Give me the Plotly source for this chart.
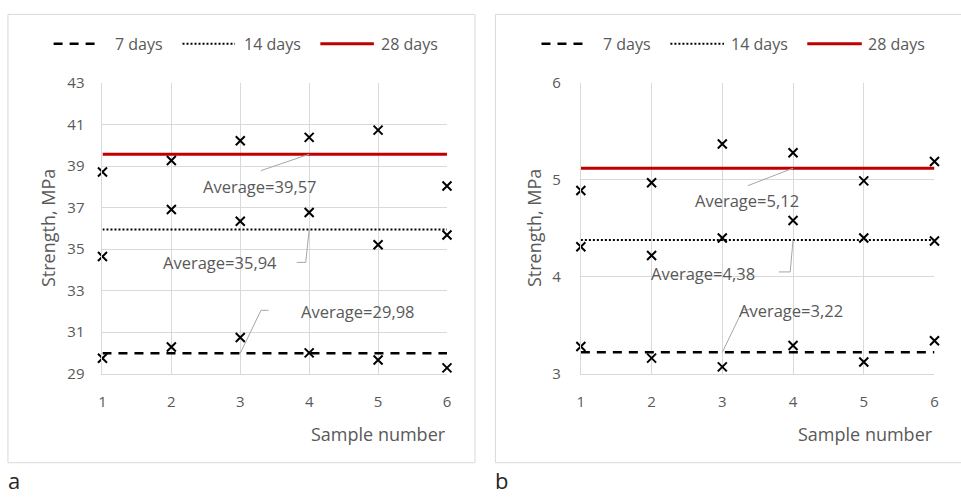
import plotly.graph_objects as go

# ---------------- data ----------------
samples = [1, 2, 3, 4, 5, 6]
ages = ["7 days", "14 days", "28 days"]

# panel a
a_7 = [29.74, 30.28, 30.74, 30.00, 29.66, 29.28]
a_14 = [34.64, 36.91, 36.34, 36.76, 35.21, 35.68]
a_28 = [38.71, 39.27, 40.22, 40.38, 40.73, 38.04]
a_avg = [29.98, 35.94, 39.57]
a_yticks = [29, 31, 33, 35, 37, 39, 41, 43]

# panel b
b_7 = [3.28, 3.16, 3.07, 3.29, 3.12, 3.34]
b_14 = [4.31, 4.22, 4.40, 4.58, 4.40, 4.37]
b_28 = [4.89, 4.97, 5.37, 5.28, 4.99, 5.19]
b_avg = [3.22, 4.38, 5.12]
b_yticks = [3, 4, 5, 6]

x_title = "Sample number"
y_title = "Strength, MPa"
panel_labels = ["a", "b"]

# ---------------- styles ----------------
W, H = 961, 502
FONT = "Open Sans"
TXT = "#595959"
GRID = "#d9d9d9"
LEAD = "#a6a6a6"
line_styles = [
    dict(color="black", width=2.5, dash="9px,7px"),
    dict(color="black", width=2, dash="2px,2px"),
    dict(color="#C00000", width=3),
]


def px(x):
    return x / W


def py(y):
    return 1 - y / H


fig = go.Figure()

panels = [
    dict(series=[a_7, a_14, a_28], avg=a_avg, xa="x", ya="y"),
    dict(series=[b_7, b_14, b_28], avg=b_avg, xa="x2", ya="y2"),
]

for p in panels:
    for i, av in enumerate(p["avg"]):
        fig.add_trace(go.Scatter(
            x=[samples[0], samples[-1]], y=[av, av], mode="lines",
            line=line_styles[i], xaxis=p["xa"], yaxis=p["ya"],
            showlegend=False, hoverinfo="skip"))
    for i, s in enumerate(p["series"]):
        fig.add_trace(go.Scatter(
            x=samples, y=s, mode="markers", name=ages[i],
            marker=dict(symbol="x-thin", size=9, color="black",
                        line=dict(color="black", width=2)),
            xaxis=p["xa"], yaxis=p["ya"], cliponaxis=False,
            showlegend=False))

axis_common = dict(showgrid=True, gridcolor=GRID, gridwidth=1, zeroline=False,
                   showline=True, linecolor=GRID, linewidth=1,
                   ticks="outside", tickcolor="rgba(0,0,0,0)",
                   tickfont=dict(family=FONT, size=15, color=TXT),
                   fixedrange=True)

ydom = [py(377.7), py(75)]
fig.update_layout(
    width=W, height=H,
    margin=dict(l=0, r=0, t=0, b=0),
    paper_bgcolor="white", plot_bgcolor="white",
    showlegend=False,
    xaxis=dict(domain=[px(99.3), px(446.7)], range=[1, 6], tickvals=samples,
               anchor="y", ticklen=14, **axis_common),
    yaxis=dict(domain=ydom, range=[29, 43], tickvals=a_yticks,
               anchor="x", ticklen=14, **axis_common),
    xaxis2=dict(domain=[px(581.7), px(938.3)], range=[1, 6], tickvals=samples,
                anchor="y2", ticklen=14, **axis_common),
    yaxis2=dict(domain=ydom, range=[3, 6], tickvals=b_yticks,
                anchor="x2", ticklen=16, **axis_common),
)

shapes = []
ann = []

# panel frames
shapes.append(dict(type="rect", xref="paper", yref="paper",
                   x0=px(4), x1=px(475), y0=py(470.5), y1=py(3.5),
                   line=dict(color=GRID, width=1), layer="below"))
shapes.append(dict(type="rect", xref="paper", yref="paper",
                   x0=px(495.5), x1=px(975), y0=py(470.5), y1=py(3.5),
                   line=dict(color=GRID, width=1), layer="below"))

# manual legends
legend_pos = [
    [(50, 95, 110), (180, 233, 240), (319, 373, 378)],
    [(542, 587, 602), (672, 726, 731), (810, 865, 869)],
]
for lp in legend_pos:
    for i, (x0, x1, tx) in enumerate(lp):
        shapes.append(dict(type="line", xref="paper", yref="paper",
                           x0=px(x0), x1=px(x1), y0=py(34), y1=py(34),
                           line=line_styles[i]))
        ann.append(dict(text=ages[i], xref="paper", yref="paper", x=px(tx), y=py(34),
                        xanchor="left", yanchor="middle", showarrow=False,
                        font=dict(family=FONT, size=16, color=TXT)))

# average labels and leader lines (data coords)
avg_labels = [
    dict(xa="x", ya="y", items=[
        dict(text="Average=39,57", tx=3.29, ty=38.0,
             path=[(4, a_avg[2]), (3.30, 38.78)]),
        dict(text="Average=35,94", tx=2.70, ty=34.34,
             path=[(4, a_avg[1]), (3.95, 34.36), (3.82, 34.36)]),
        dict(text="Average=29,98", tx=4.71, ty=31.98,
             path=[(3, a_avg[0]), (3.30, 32.05), (3.41, 32.05)]),
    ]),
    dict(xa="x2", ya="y2", items=[
        dict(text="Average=5,12", tx=3.35, ty=4.79,
             path=[(4, b_avg[2]), (3.36, 4.94)]),
        dict(text="Average=4,38", tx=2.73, ty=4.03,
             path=[(4, b_avg[1]), (3.96, 4.05), (3.80, 4.05)]),
        dict(text="Average=3,22", tx=3.97, ty=3.65,
             path=[(3, b_avg[0]), (3.29, 3.66), (3.41, 3.66)]),
    ]),
]
for grp in avg_labels:
    for it in grp["items"]:
        d = "M" + " L".join(f"{x},{y}" for x, y in it["path"])
        shapes.append(dict(type="path", xref=grp["xa"], yref=grp["ya"], path=d,
                           line=dict(color=LEAD, width=1)))
        ann.append(dict(text=it["text"], xref=grp["xa"], yref=grp["ya"],
                        x=it["tx"], y=it["ty"], xanchor="center", yanchor="middle",
                        showarrow=False, font=dict(family=FONT, size=16.5, color=TXT)))

# axis titles
for xc, xr in [(45, 447), (535, 938.3)]:
    ann.append(dict(text=y_title, xref="paper", yref="paper", x=px(xc), y=py(226.5),
                    textangle=-90, xanchor="center", yanchor="middle", showarrow=False,
                    font=dict(family=FONT, size=18, color=TXT)))
    ann.append(dict(text=x_title, xref="paper", yref="paper", x=px(xr + 1), y=py(441),
                    xanchor="right", yanchor="middle", showarrow=False,
                    font=dict(family=FONT, size=18, color=TXT)))

# panel letters
for lbl, xc in zip(panel_labels, [10, 502]):
    ann.append(dict(text=lbl, xref="paper", yref="paper", x=px(xc), y=py(488),
                    xanchor="center", yanchor="middle", showarrow=False,
                    font=dict(family=FONT, size=22, color="#262626")))

fig.update_layout(shapes=shapes, annotations=ann)
fig.write_html(
    "out.html",
    config={"displayModeBar": False, "staticPlot": True},
    post_script="document.body.style.margin='0';document.body.style.padding='0';"
                "document.body.style.overflow='hidden';",
)
